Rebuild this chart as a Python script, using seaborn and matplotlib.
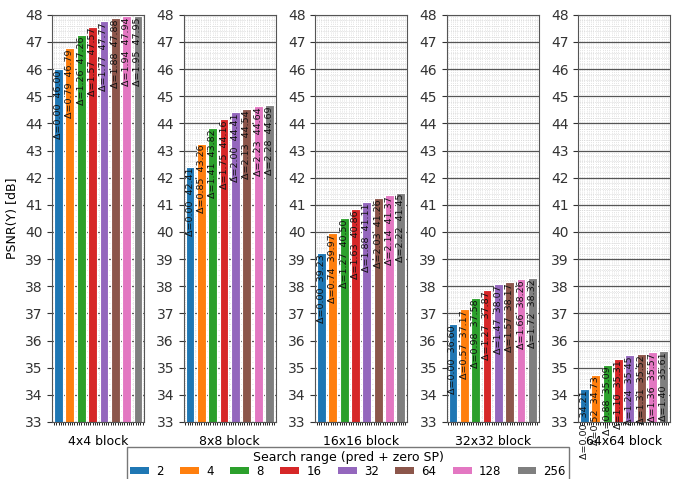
import seaborn as sns
import matplotlib.pyplot as plt
from matplotlib.patches import Patch
from matplotlib.ticker import MultipleLocator
import pandas as pd

ranges = ['2', '4', '8', '16', '32', '64', '128', '256']
blocks = ['4x4 block', '8x8 block', '16x16 block', '32x32 block', '64x64 block']

psnr_4x4 = [46.00, 46.79, 47.26, 47.57, 47.77, 47.88, 47.94, 47.95]
psnr_8x8 = [42.41, 43.26, 43.82, 44.16, 44.41, 44.54, 44.64, 44.69]
psnr_16x16 = [39.23, 39.97, 40.50, 40.86, 41.11, 41.26, 41.37, 41.45]
psnr_32x32 = [36.60, 37.17, 37.58, 37.87, 38.07, 38.17, 38.26, 38.32]
psnr_64x64 = [34.21, 34.73, 35.09, 35.31, 35.45, 35.52, 35.57, 35.61]
all_psnr = [psnr_4x4, psnr_8x8, psnr_16x16, psnr_32x32, psnr_64x64]

colors = sns.color_palette('tab10', 8)

fig, axes = plt.subplots(1, 5, figsize=(6.88, 4.79), dpi=100)
fig.subplots_adjust(left=0.076, right=0.974, top=0.969, bottom=0.119, wspace=0.43)

for ax, block, vals in zip(axes, blocks, all_psnr):
    df = pd.DataFrame({'range': ranges, 'psnr': vals})
    sns.barplot(data=df, x='range', y='psnr', hue='range', palette=colors, saturation=1,
                legend=False, ax=ax, width=0.78, edgecolor='white', linewidth=0.8)
    ax.set_ylim(33, 48)
    ax.set_xlim(-0.55, 7.55)
    ax.yaxis.set_major_locator(MultipleLocator(1))
    ax.yaxis.set_minor_locator(MultipleLocator(0.2))
    ax.xaxis.set_minor_locator(MultipleLocator(0.2))
    ax.grid(which='major', axis='y', color='#555555', linewidth=0.9)
    ax.grid(which='minor', color='#cccccc', linestyle=':', linewidth=0.5)
    ax.set_axisbelow(True)
    ax.set_xticks([])
    ax.tick_params(axis='y', which='minor', length=0)
    ax.tick_params(axis='y', labelsize=10, colors='#333333')
    ax.set_xlabel(block, fontsize=9)
    ax.set_ylabel('')
    for s in ax.spines.values():
        s.set_color('#555555')
    base = vals[0]
    for i, v in enumerate(vals):
        ax.text(i, v - 0.05, f'\u0394={v - base:.2f}  {v:.2f}', rotation=90,
                ha='center', va='top', fontsize=6.8, color='#111111', clip_on=False)

axes[0].set_ylabel('PSNR(Y) [dB]', fontsize=9)

handles = [Patch(facecolor=c, label=r) for c, r in zip(colors, ranges)]
leg = fig.legend(handles=handles, loc='upper center', bbox_to_anchor=(0.506, 0.066),
                 ncol=8, title='Search range (pred + zero SP)', fontsize=8.5,
                 title_fontsize=9, frameon=True, edgecolor='#555555', fancybox=False,
                 handlelength=1.6, handleheight=0.5, columnspacing=1.4,
                 handletextpad=0.6, borderpad=0.3, borderaxespad=0, labelspacing=0.05)

fig.savefig('out.png', dpi=100)
